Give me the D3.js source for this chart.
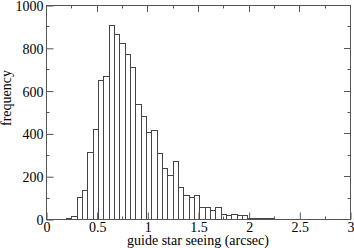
<!DOCTYPE html>
<html>
<head>
<meta charset="utf-8">
<script src="https://cdn.jsdelivr.net/npm/d3@7"></script>
<style>
	body { margin: 0; background: #fff; }
	svg { display: block; }
	.tick text { font-family: "Liberation Serif", "DejaVu Serif", serif; font-size: 14px; fill: #000; }
</style>
</head>
<body>
<div id="chart"></div>
<script>
// histogram of guide star seeing

var binStarts = [0.197, 0.250, 0.303, 0.355, 0.408, 0.461, 0.513, 0.566, 0.618, 0.671,
	0.724, 0.776, 0.829, 0.882, 0.934, 0.987, 1.039, 1.092, 1.145, 1.197,
	1.250, 1.303, 1.355, 1.408, 1.461, 1.513, 1.566, 1.618, 1.671, 1.724,
	1.776, 1.829, 1.882, 1.934, 1.987, 2.039, 2.092, 2.145, 2.197];
var binWidth = 0.0526;
var counts = [3, 14, 104, 135, 311, 420, 650, 668, 906, 863,
	824, 771, 710, 539, 480, 405, 415, 307, 240, 204,
	271, 151, 112, 104, 112, 55, 55, 42, 55, 23,
	17, 23, 17, 17, 5, 5, 4, 4, 3];

var xTicks = [0, 0.5, 1, 1.5, 2, 2.5, 3];
var xMinor = [0.25, 0.75, 1.25, 1.75, 2.25, 2.75];
var yTicks = [0, 200, 400, 600, 800, 1000];
var yMinor = [100, 300, 500, 700, 900];

drawChart();

function drawChart() {
	var w = 354,
		h = 248,
		left = 46,
		right = 350,
		top = 5,
		bottom = 219,
		frameColor = "#555";

	var x = d3.scaleLinear().domain([0, 3]).range([left, right]);
	var y = d3.scaleLinear().domain([0, 1000]).range([bottom, top]);

	var svg = d3.select("#chart")
		.append("svg")
		.attr("width", w)
		.attr("height", h);

	var data = binStarts.map(function(s, i) {
		return { x0: s, x1: s + binWidth, n: counts[i] };
	});

	svg.selectAll("rect.bar")
		.data(data)
		.enter().append("rect")
		.attr("class", "bar")
		.attr("x", function(d) { return Math.round(x(d.x0)) + 0.5; })
		.attr("y", function(d) { return Math.round(y(d.n)) + 0.5; })
		.attr("width", function(d) { return Math.round(x(d.x1)) - Math.round(x(d.x0)); })
		.attr("height", function(d) { return Math.round(y(0)) - Math.round(y(d.n)); })
		.attr("fill", "none")
		.attr("stroke", "#444")
		.attr("stroke-width", 1);

	// frame
	svg.append("rect")
		.attr("x", left + 0.5)
		.attr("y", top + 0.5)
		.attr("width", right - left)
		.attr("height", bottom - top)
		.attr("fill", "none")
		.attr("stroke", frameColor)
		.attr("stroke-width", 1);

	// major ticks with labels, pointing inward
	var xAxis = svg.append("g")
		.attr("transform", "translate(0.5," + (bottom + 0.5) + ")")
		.call(d3.axisBottom(x).tickValues(xTicks).tickSize(-7).tickPadding(3)
			.tickFormat(d3.format("")));
	var yAxis = svg.append("g")
		.attr("transform", "translate(" + (left + 0.5) + ",0.5)")
		.call(d3.axisLeft(y).tickValues(yTicks).tickSize(-7).tickPadding(3)
			.tickFormat(d3.format("d")));

	[xAxis, yAxis].forEach(function(g) {
		g.select(".domain").remove();
		g.selectAll(".tick line").attr("stroke", frameColor);
	});
	yAxis.selectAll(".tick text").attr("dy", "0.36em");

	// top and right ticks, plus minor ones
	var tickG = svg.append("g").attr("stroke", frameColor).attr("stroke-width", 1);
	xTicks.concat(xMinor).forEach(function(v) {
		var len = xTicks.indexOf(v) >= 0 ? 7 : 3.5;
		var px = Math.round(x(v)) + 0.5;
		tickG.append("line").attr("x1", px).attr("x2", px).attr("y1", top).attr("y2", top + len);
		if (xMinor.indexOf(v) >= 0) {
			tickG.append("line").attr("x1", px).attr("x2", px).attr("y1", bottom + 1).attr("y2", bottom + 1 - len);
		}
	});
	yTicks.concat(yMinor).forEach(function(v) {
		var len = yTicks.indexOf(v) >= 0 ? 7 : 3.5;
		var py = Math.round(y(v)) + 0.5;
		tickG.append("line").attr("x1", right + 1).attr("x2", right + 1 - len).attr("y1", py).attr("y2", py);
		if (yMinor.indexOf(v) >= 0) {
			tickG.append("line").attr("x1", left).attr("x2", left + len).attr("y1", py).attr("y2", py);
		}
	});

	// axis titles
	svg.append("text")
		.attr("x", (left + right) / 2)
		.attr("y", 245)
		.attr("text-anchor", "middle")
		.attr("font-family", "Liberation Serif, serif")
		.attr("font-size", "14px")
		.text("guide star seeing (arcsec)");

	svg.append("text")
		.attr("transform", "translate(11,98) rotate(-90)")
		.attr("text-anchor", "middle")
		.attr("font-family", "Liberation Serif, serif")
		.attr("font-size", "14px")
		.text("frequency");
}
</script>
</body>
</html>
